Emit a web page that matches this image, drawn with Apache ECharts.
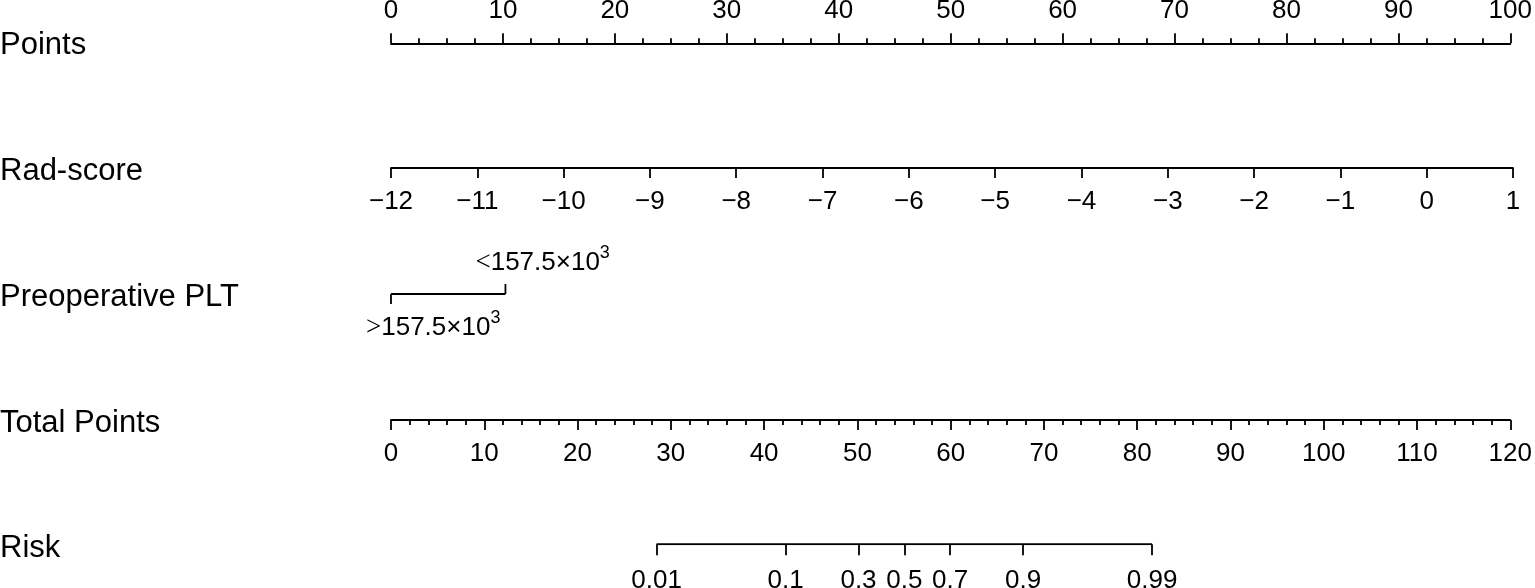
<!DOCTYPE html>
<html>
<head>
<meta charset="utf-8">
<script src="https://cdn.jsdelivr.net/npm/echarts@6/dist/echarts.min.js"></script>
<style>
html,body{margin:0;padding:0;background:#fff;}
#chart{width:1535px;height:588px;}
</style>
</head>
<body>
<div id="chart"></div>
<script>
// ---- data ----
const rowTitles = ['Points', 'Rad-score', 'Preoperative PLT', 'Total Points', 'Risk'];
const pointsRange = [0, 100];
const radScoreRange = [-12, 1];
const totalPointsRange = [0, 120];
const pltPoints = [0, 10.2];
const pltOperators = ['>', '<'];
const pltThreshold = '157.5×10';
const pltExponent = '3';
const riskLabels = ['0.01', '0.1', '0.3', '0.5', '0.7', '0.9', '0.99'];
const riskTotalPoints = [28.4, 42.2, 50.0, 54.9, 59.8, 67.6, 81.4];

// ---- layout ----
const FONT = '"Liberation Sans", Arial, sans-serif';
const lineYs = [42, 168, 294, 420, 545];
const LEFT = 391, RIGHT = 22;
const lineStyle = {color: '#000', width: 1.8};
const labelStyle = {color: '#000', fontSize: 26, fontFamily: FONT};

const grids = lineYs.map((y, i) => {
  return i === 0 ? {left: LEFT, right: RIGHT, top: y, height: 1}
                 : {left: LEFT, right: RIGHT, top: y - 1, height: 1};
});

const xAxes = [
  { // Points
    gridIndex: 0, type: 'value', position: 'top',
    min: pointsRange[0], max: pointsRange[1], interval: 10,
    axisLine: {show: true, lineStyle},
    axisTick: {show: true, length: 10, lineStyle},
    minorTick: {show: true, splitNumber: 4, length: 5, lineStyle},
    axisLabel: Object.assign({margin: 19}, labelStyle),
    splitLine: {show: false}
  },
  { // Rad-score
    gridIndex: 1, type: 'value', position: 'bottom',
    min: radScoreRange[0], max: radScoreRange[1], interval: 1,
    axisLine: {show: true, lineStyle},
    axisTick: {show: true, length: 10, lineStyle},
    axisLabel: Object.assign({margin: 21, formatter: v => String(v).replace('-', '\u2212')}, labelStyle),
    splitLine: {show: false}
  },
  { // PLT (shares the points scale, hidden)
    gridIndex: 2, type: 'value', show: false,
    min: pointsRange[0], max: pointsRange[1]
  },
  { // Total Points
    gridIndex: 3, type: 'value', position: 'bottom',
    min: totalPointsRange[0], max: totalPointsRange[1], interval: 10,
    axisLine: {show: true, lineStyle},
    axisTick: {show: true, length: 10, lineStyle},
    minorTick: {show: true, splitNumber: 5, length: 5, lineStyle},
    axisLabel: Object.assign({margin: 21}, labelStyle),
    splitLine: {show: false}
  },
  { // Risk (on total points scale)
    gridIndex: 4, type: 'value', position: 'bottom',
    min: totalPointsRange[0], max: totalPointsRange[1],
    axisLine: {show: false},
    axisTick: {show: true, length: 11, lineStyle, customValues: riskTotalPoints},
    axisLabel: Object.assign({
      margin: 24, customValues: riskTotalPoints, showMinLabel: true, showMaxLabel: true,
      formatter: v => {
        const i = riskTotalPoints.findIndex(t => Math.abs(t - v) < 1e-6);
        return i >= 0 ? riskLabels[i] : '';
      }
    }, labelStyle),
    splitLine: {show: false}
  }
];

const yAxes = lineYs.map((y, i) => ({gridIndex: i, type: 'value', min: 0, max: 1, show: false}));

const pltRich = {
  op: {fontFamily: '"Liberation Serif", "Times New Roman", serif', fontSize: 27, color: '#000', lineHeight: 32, verticalAlign: 'bottom'},
  n: {fontFamily: FONT, fontSize: 26, color: '#000', lineHeight: 32, verticalAlign: 'bottom'},
  sup: {fontFamily: FONT, fontSize: 18, color: '#000', lineHeight: 32, verticalAlign: 'top', padding: [0, 0, 12, 0]}
};

const series = [
  { // PLT horizontal segment
    type: 'line', xAxisIndex: 2, yAxisIndex: 2,
    data: [[Math.min(...pltPoints), 0], [Math.max(...pltPoints), 0]],
    symbol: 'none', silent: true, animation: false,
    lineStyle: {color: '#000', width: 1.8}
  },
  { // PLT ticks + labels
    type: 'custom', xAxisIndex: 2, yAxisIndex: 2, animation: false, silent: true,
    data: pltPoints.map((p, i) => [p, 0, i]),
    renderItem: (params, api) => {
      const c = api.coord([api.value(0), api.value(1)]);
      const i = api.value(2);
      const down = i === 0;
      const x = c[0], y = c[1];
      return {
        type: 'group',
        children: [
          {type: 'line', shape: {x1: x, y1: y, x2: x, y2: down ? y + 10 : y - 10},
           style: {stroke: '#000', lineWidth: 1.8}},
          {type: 'text', x: down ? x - 25 : x - 30, y: down ? y + 31 : y - 34,
           style: {
             text: '{op|' + pltOperators[i] + '}{n|' + pltThreshold + '}{sup|' + pltExponent + '}',
             rich: pltRich, align: 'left', verticalAlign: 'middle'
           }}
        ]
      };
    }
  },
  { // Risk axis segment
    type: 'line', xAxisIndex: 4, yAxisIndex: 4,
    data: [[riskTotalPoints[0], 0], [riskTotalPoints[riskTotalPoints.length - 1], 0]],
    symbol: 'none', silent: true, animation: false,
    lineStyle: {color: '#000', width: 1.8}
  }
];

const graphic = rowTitles.map((t, i) => ({
  type: 'text', left: 0, top: lineYs[i] - 12,
  style: {text: t, fontSize: 31, fontFamily: FONT, fill: '#000'}
}));

const chart = echarts.init(document.getElementById('chart'), null, {renderer: 'canvas'});
chart.setOption({
  animation: false,
  backgroundColor: '#fff',
  grid: grids,
  xAxis: xAxes,
  yAxis: yAxes,
  series,
  graphic
});
</script>
</body>
</html>
